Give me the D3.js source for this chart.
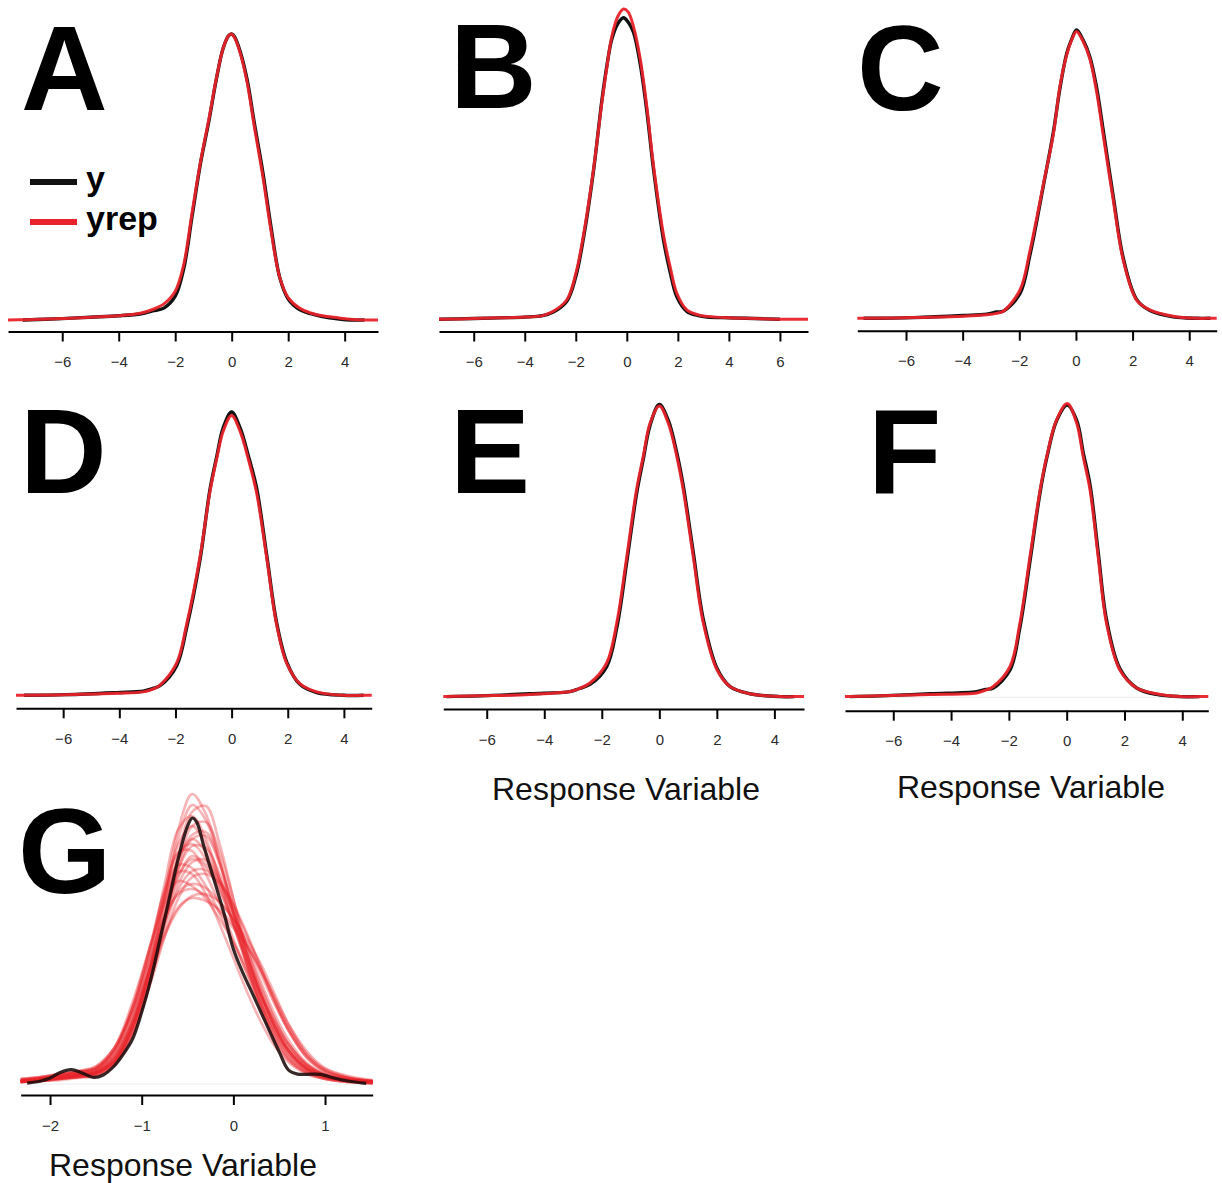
<!DOCTYPE html>
<html>
<head>
<meta charset="utf-8">
<script src="https://cdn.jsdelivr.net/npm/d3@7"></script>
<style>
  html, body { margin: 0; padding: 0; background: #fff; }
  svg { display: block; font-family: "Liberation Sans", Arial, Helvetica, sans-serif; }
</style>
</head>
<body>
<svg id="fig" width="1222" height="1183"></svg>
<script>
// ---------- Posterior predictive density overlays: observed y vs replicated yrep ----------

// tick values
const ticksStd = [-6, -4, -2, 0, 2, 4];
const ticksB = [-6, -4, -2, 0, 2, 4, 6];
const ticksG = [-2, -1, 0, 1];

// Panel A
const gridA = [-7.92, -7.4, -6, -5, -4, -3.2, -2.8, -2.4, -2.0, -1.7, -1.4, -1.1, -0.8, -0.55, -0.3, -0.1, 0, 0.1, 0.3, 0.55, 0.8, 1.1, 1.4, 1.7, 2.0, 2.4, 2.8, 3.2, 3.8, 4.2, 4.7, 5.18];
const yA = [null, 0.001, 0.003, 0.005, 0.007, 0.010, 0.014, 0.018, 0.035, 0.074, 0.150, 0.226, 0.287, 0.344, 0.390, 0.408, 0.410, 0.406, 0.385, 0.344, 0.283, 0.213, 0.132, 0.062, 0.031, 0.016, 0.010, 0.006, 0.0025, 0.001, 0.001, null];
const yrepA = [0.001, 0.0015, 0.003, 0.005, 0.007, 0.011, 0.016, 0.024, 0.042, 0.080, 0.155, 0.228, 0.290, 0.345, 0.390, 0.408, 0.410, 0.405, 0.383, 0.340, 0.278, 0.207, 0.127, 0.062, 0.033, 0.018, 0.011, 0.007, 0.004, 0.002, 0.001, 0.001];

// Panel B
const gridB = [-7.36, -6, -5, -4, -3.3, -2.88, -2.35, -2.0, -1.7, -1.31, -0.98, -0.78, -0.59, -0.35, -0.13, 0.05, 0.26, 0.52, 0.78, 1.04, 1.44, 1.7, 1.96, 2.35, 2.8, 3.14, 4, 5, 6, 7.1];
const yB = [0.001, 0.002, 0.003, 0.004, 0.006, 0.011, 0.026, 0.060, 0.113, 0.205, 0.303, 0.352, 0.388, 0.410, 0.418, 0.412, 0.398, 0.355, 0.290, 0.210, 0.110, 0.066, 0.032, 0.012, 0.006, 0.004, 0.003, 0.002, 0.001, null];
const yrepB = [0.001, 0.002, 0.003, 0.004, 0.006, 0.012, 0.028, 0.064, 0.117, 0.207, 0.300, 0.350, 0.392, 0.420, 0.430, 0.426, 0.406, 0.362, 0.296, 0.215, 0.117, 0.073, 0.037, 0.014, 0.007, 0.005, 0.003, 0.002, 0.001, 0.001];

// Panel C
const gridC = [-7.72, -7.5, -5.74, -3.98, -3.15, -2.8, -2.57, -1.98, -1.62, -1.15, -0.80, -0.56, -0.33, -0.15, 0.02, 0.25, 0.49, 0.73, 0.96, 1.32, 1.67, 2.14, 2.61, 3.43, 4.26, 4.75, 4.97];
const yC = [null, 0.001, 0.002, 0.005, 0.007, 0.010, 0.011, 0.036, 0.092, 0.190, 0.266, 0.330, 0.378, 0.399, 0.412, 0.398, 0.374, 0.330, 0.270, 0.174, 0.087, 0.028, 0.012, 0.003, 0.001, 0.001, null];
const yrepC = [0.001, 0.001, 0.002, 0.004, 0.006, 0.008, 0.011, 0.041, 0.098, 0.192, 0.263, 0.333, 0.376, 0.398, 0.410, 0.396, 0.371, 0.324, 0.263, 0.169, 0.084, 0.027, 0.013, 0.004, 0.001, 0.001, 0.001];

// Panel D
const gridD = [-7.68, -7.4, -5.88, -4.1, -3.15, -2.8, -2.55, -1.96, -1.60, -1.13, -0.77, -0.53, -0.30, 0, 0.30, 0.59, 0.89, 1.25, 1.60, 1.96, 2.43, 3.03, 3.98, 4.7, 4.99];
const yD = [null, 0.001, 0.002, 0.005, 0.007, 0.011, 0.015, 0.044, 0.100, 0.198, 0.302, 0.350, 0.392, 0.415, 0.392, 0.352, 0.304, 0.206, 0.108, 0.050, 0.017, 0.005, 0.001, 0.001, null];
const yrepD = [0.001, 0.001, 0.002, 0.004, 0.006, 0.010, 0.016, 0.048, 0.105, 0.202, 0.299, 0.347, 0.387, 0.410, 0.387, 0.347, 0.297, 0.202, 0.105, 0.048, 0.018, 0.006, 0.001, 0.001, 0.001];

// Panel E
const gridE = [-7.51, -7.4, -6.24, -4.5, -3.11, -2.8, -2.41, -1.83, -1.48, -1.13, -0.79, -0.56, -0.32, 0, 0.31, 0.61, 0.83, 1.18, 1.53, 2.0, 2.46, 3.15, 4.2, 4.7, 5.03];
const yE = [null, 0.001, 0.002, 0.005, 0.008, 0.012, 0.018, 0.043, 0.097, 0.190, 0.285, 0.333, 0.381, 0.410, 0.388, 0.342, 0.297, 0.203, 0.109, 0.041, 0.015, 0.005, 0.001, 0.001, null];
const yrepE = [0.001, 0.001, 0.002, 0.004, 0.008, 0.012, 0.020, 0.048, 0.104, 0.197, 0.291, 0.337, 0.384, 0.408, 0.384, 0.337, 0.291, 0.197, 0.104, 0.039, 0.015, 0.005, 0.001, 0.001, 0.001];

// Panel F
const gridF = [-7.67, -7.5, -6.46, -4.73, -3.11, -2.8, -2.54, -1.96, -1.62, -1.27, -0.92, -0.69, -0.35, 0.02, 0.35, 0.57, 0.81, 1.09, 1.38, 1.84, 2.42, 3.11, 3.92, 4.6, 4.90];
const yF = [null, 0.001, 0.002, 0.005, 0.008, 0.011, 0.013, 0.038, 0.097, 0.190, 0.286, 0.334, 0.386, 0.408, 0.386, 0.342, 0.296, 0.203, 0.108, 0.040, 0.013, 0.004, 0.001, 0.001, null];
const yrepF = [0.001, 0.001, 0.002, 0.004, 0.006, 0.010, 0.015, 0.043, 0.103, 0.196, 0.289, 0.336, 0.387, 0.410, 0.382, 0.336, 0.289, 0.196, 0.103, 0.038, 0.013, 0.005, 0.001, 0.001, 0.001];

// Panel G: observed density
const gridGy = [-2.25, -2.1, -2.0, -1.9, -1.77, -1.65, -1.52, -1.42, -1.3, -1.2, -1.1, -1.0, -0.9, -0.8, -0.7, -0.6, -0.5, -0.447, -0.4, -0.32, -0.21, -0.1, 0, 0.1, 0.2, 0.3, 0.4, 0.5, 0.6, 0.7, 0.85, 0.95, 1.1, 1.25, 1.45];
const yG = [0.003, 0.010, 0.020, 0.037, 0.048, 0.037, 0.022, 0.030, 0.060, 0.100, 0.150, 0.240, 0.350, 0.483, 0.617, 0.753, 0.860, 0.887, 0.873, 0.790, 0.680, 0.567, 0.450, 0.373, 0.307, 0.240, 0.173, 0.107, 0.047, 0.033, 0.033, 0.032, 0.020, 0.010, 0.002];

// Panel G: replicated densities (one row per draw)
const gridGrep = [-2.32, -2.1, -1.9, -1.7, -1.5, -1.3, -1.1, -0.9, -0.75, -0.6, -0.45, -0.3, -0.15, 0, 0.15, 0.3, 0.45, 0.6, 0.8, 1.0, 1.25, 1.52];
const yrepG = [
  [0.007, 0.010, 0.017, 0.023, 0.033, 0.073, 0.200, 0.417, 0.633, 0.850, 0.967, 0.900, 0.750, 0.567, 0.393, 0.250, 0.147, 0.080, 0.037, 0.017, 0.007, 0.003],
  [0.007, 0.013, 0.020, 0.030, 0.040, 0.090, 0.227, 0.450, 0.667, 0.850, 0.893, 0.817, 0.683, 0.533, 0.393, 0.267, 0.167, 0.093, 0.043, 0.020, 0.010, 0.005],
  [0.010, 0.013, 0.020, 0.027, 0.037, 0.080, 0.187, 0.373, 0.550, 0.717, 0.817, 0.827, 0.733, 0.583, 0.433, 0.300, 0.193, 0.113, 0.053, 0.027, 0.013, 0.007],
  [0.010, 0.017, 0.027, 0.033, 0.047, 0.107, 0.250, 0.467, 0.650, 0.773, 0.777, 0.700, 0.600, 0.483, 0.367, 0.260, 0.167, 0.100, 0.047, 0.023, 0.010, 0.007],
  [0.007, 0.013, 0.020, 0.027, 0.037, 0.073, 0.173, 0.350, 0.517, 0.650, 0.710, 0.713, 0.667, 0.573, 0.460, 0.340, 0.233, 0.147, 0.070, 0.033, 0.017, 0.007],
  [0.013, 0.020, 0.027, 0.033, 0.047, 0.100, 0.220, 0.400, 0.543, 0.640, 0.667, 0.653, 0.607, 0.550, 0.480, 0.400, 0.300, 0.200, 0.100, 0.047, 0.020, 0.010],
  [0.010, 0.017, 0.023, 0.030, 0.040, 0.087, 0.200, 0.360, 0.493, 0.583, 0.627, 0.633, 0.607, 0.550, 0.467, 0.367, 0.267, 0.180, 0.093, 0.043, 0.020, 0.010],
  [0.007, 0.010, 0.017, 0.023, 0.030, 0.067, 0.183, 0.400, 0.617, 0.800, 0.860, 0.800, 0.683, 0.550, 0.427, 0.317, 0.217, 0.133, 0.063, 0.030, 0.013, 0.007],
  [0.010, 0.017, 0.023, 0.033, 0.043, 0.093, 0.207, 0.387, 0.540, 0.667, 0.740, 0.747, 0.683, 0.573, 0.450, 0.327, 0.217, 0.133, 0.063, 0.030, 0.013, 0.007],
  [0.013, 0.020, 0.030, 0.040, 0.053, 0.120, 0.273, 0.467, 0.600, 0.677, 0.660, 0.617, 0.550, 0.473, 0.383, 0.293, 0.207, 0.133, 0.067, 0.033, 0.017, 0.007],
  [0.007, 0.010, 0.013, 0.020, 0.027, 0.060, 0.160, 0.350, 0.550, 0.767, 0.907, 0.927, 0.800, 0.617, 0.427, 0.273, 0.160, 0.087, 0.040, 0.020, 0.010, 0.003],
  [0.010, 0.017, 0.023, 0.030, 0.040, 0.083, 0.207, 0.407, 0.593, 0.750, 0.817, 0.773, 0.667, 0.533, 0.400, 0.280, 0.183, 0.110, 0.050, 0.023, 0.010, 0.007],
  [0.017, 0.023, 0.033, 0.043, 0.057, 0.120, 0.253, 0.427, 0.560, 0.633, 0.650, 0.627, 0.573, 0.520, 0.460, 0.380, 0.280, 0.190, 0.100, 0.050, 0.023, 0.010],
  [0.007, 0.013, 0.020, 0.027, 0.037, 0.077, 0.190, 0.377, 0.543, 0.690, 0.760, 0.733, 0.677, 0.593, 0.493, 0.383, 0.273, 0.180, 0.087, 0.040, 0.020, 0.010],
  [0.010, 0.017, 0.027, 0.037, 0.050, 0.110, 0.253, 0.460, 0.617, 0.707, 0.700, 0.633, 0.533, 0.420, 0.307, 0.207, 0.127, 0.073, 0.033, 0.017, 0.007, 0.003],
  [0.007, 0.010, 0.017, 0.023, 0.030, 0.067, 0.167, 0.350, 0.533, 0.733, 0.860, 0.873, 0.773, 0.617, 0.450, 0.307, 0.193, 0.110, 0.050, 0.023, 0.010, 0.003],
  [0.008, 0.013, 0.020, 0.027, 0.037, 0.080, 0.193, 0.387, 0.557, 0.697, 0.750, 0.723, 0.647, 0.537, 0.413, 0.297, 0.197, 0.120, 0.060, 0.030, 0.013, 0.007],
  [0.013, 0.023, 0.033, 0.040, 0.047, 0.093, 0.213, 0.393, 0.560, 0.717, 0.793, 0.787, 0.700, 0.567, 0.427, 0.300, 0.193, 0.113, 0.053, 0.027, 0.013, 0.007],
  [0.013, 0.020, 0.030, 0.040, 0.053, 0.110, 0.240, 0.440, 0.630, 0.770, 0.800, 0.750, 0.650, 0.530, 0.410, 0.300, 0.200, 0.120, 0.057, 0.027, 0.013, 0.007],
  [0.007, 0.013, 0.020, 0.027, 0.037, 0.073, 0.170, 0.340, 0.490, 0.620, 0.690, 0.700, 0.670, 0.600, 0.500, 0.390, 0.280, 0.180, 0.090, 0.043, 0.020, 0.010],
  [0.007, 0.010, 0.017, 0.023, 0.030, 0.070, 0.190, 0.400, 0.610, 0.820, 0.930, 0.880, 0.740, 0.570, 0.400, 0.260, 0.150, 0.083, 0.037, 0.017, 0.007, 0.003],
  [0.013, 0.020, 0.030, 0.040, 0.053, 0.113, 0.260, 0.470, 0.640, 0.730, 0.720, 0.660, 0.570, 0.470, 0.370, 0.270, 0.180, 0.110, 0.053, 0.027, 0.013, 0.007],
  [0.017, 0.023, 0.033, 0.043, 0.060, 0.120, 0.240, 0.390, 0.500, 0.590, 0.620, 0.610, 0.580, 0.530, 0.460, 0.380, 0.290, 0.200, 0.110, 0.053, 0.027, 0.013],
  [0.010, 0.013, 0.020, 0.027, 0.037, 0.077, 0.190, 0.380, 0.570, 0.750, 0.830, 0.840, 0.740, 0.590, 0.430, 0.290, 0.180, 0.100, 0.047, 0.023, 0.010, 0.005]
];

const panelLabels = ["A", "B", "C", "D", "E", "F", "G"];
const legendLabels = ["y", "yrep"];
const axisTitle = "Response Variable";

// ---------- layout and styles ----------
const RED = "#e8242a";
const BLACK = "#111111";

const panels = [
  { id: "A", grid: gridA, y: yA, yrep: [yrepA], ticks: ticksStd, xDom: [-7.92, 5.18], left: 8, right: 378, axisY: 331.5, base: 320.7, top: 34, lx: 21, ly: 110 },
  { id: "B", grid: gridB, y: yB, yrep: [yrepB], ticks: ticksB, xDom: [-7.36, 7.1], left: 439, right: 808, axisY: 331.5, base: 320, top: 9, lx: 450, ly: 108 },
  { id: "C", grid: gridC, y: yC, yrep: [yrepC], ticks: ticksStd, xDom: [-7.72, 4.97], left: 857.3, right: 1216.7, axisY: 330.7, base: 319, top: 30, lx: 857, ly: 110 },
  { id: "D", grid: gridD, y: yD, yrep: [yrepD], ticks: ticksStd, xDom: [-7.68, 4.99], left: 16, right: 371.7, axisY: 708.3, base: 696, top: 412, lx: 20, ly: 493 },
  { id: "E", grid: gridE, y: yE, yrep: [yrepE], ticks: ticksStd, xDom: [-7.51, 5.03], left: 443.3, right: 804, axisY: 709, base: 697.3, top: 404.5, lx: 450, ly: 493, titleX: 626, titleY: 800 },
  { id: "F", grid: gridF, y: yF, yrep: [yrepF], ticks: ticksStd, xDom: [-7.67, 4.90], left: 845, right: 1208.3, axisY: 710.7, base: 697.3, top: 403.5, lx: 868, ly: 493, titleX: 1031, titleY: 798, faint: true },
  { id: "G", grid: gridGy, repGrid: gridGrep, y: yG, yrep: yrepG, ticks: ticksG, xDom: [-2.32, 1.52], left: 20.7, right: 372.7, axisY: 1095, base: 1084, top: 794, lx: 18, ly: 893, titleX: 183, titleY: 1176, faint: true, many: true }
];

const svg = d3.select("#fig");

function toPoints(grid, vals) {
  return grid.map((g, i) => ({ x: g, v: vals[i] }));
}

panels.forEach((p, idx) => {
  const g = svg.append("g").attr("class", "panel panel-" + p.id);
  const repGrid = p.repGrid || p.grid;
  const yMax = d3.max([d3.max(p.y), d3.max(p.yrep.flat())]);

  const x = d3.scaleLinear().domain(p.xDom).range([p.left, p.right]);
  const y = d3.scaleLinear().domain([0, yMax]).range([p.base, p.top]);

  const line = d3.line()
    .defined(d => d.v !== null && d.v !== undefined)
    .x(d => x(d.x))
    .y(d => y(d.v))
    .curve(d3.curveCatmullRom.alpha(0.5));

  if (p.faint) {
    g.append("line")
      .attr("x1", p.left).attr("x2", p.right)
      .attr("y1", y(0)).attr("y2", y(0))
      .attr("stroke", "#ececec").attr("stroke-width", 1);
  }

  if (p.many) {
    // replicated draws, translucent, then observed on top
    g.append("g").selectAll("path")
      .data(p.yrep)
      .join("path")
      .attr("d", r => line(toPoints(repGrid, r)))
      .attr("fill", "none")
      .attr("stroke", RED)
      .attr("stroke-opacity", 0.34)
      .attr("stroke-width", 2.6);
    g.append("path")
      .attr("d", line(toPoints(p.grid, p.y)))
      .attr("fill", "none")
      .attr("stroke", "#1d0b0b")
      .attr("stroke-opacity", 0.88)
      .attr("stroke-width", 3.2);
  } else {
    g.append("path")
      .attr("d", line(toPoints(p.grid, p.y)))
      .attr("fill", "none")
      .attr("stroke", BLACK)
      .attr("stroke-width", 3.4)
      .attr("stroke-linejoin", "round");
    g.append("g").selectAll("path")
      .data(p.yrep)
      .join("path")
      .attr("d", r => line(toPoints(repGrid, r)))
      .attr("fill", "none")
      .attr("stroke", RED)
      .attr("stroke-width", 3)
      .attr("stroke-opacity", 0.95)
      .attr("stroke-linejoin", "round");
  }

  // x axis
  const axis = d3.axisBottom(x)
    .tickValues(p.ticks)
    .tickSize(10)
    .tickSizeOuter(0)
    .tickPadding(15)
    .tickFormat(d => d < 0 ? "\u2212" + Math.abs(d) : String(d));

  const ag = g.append("g")
    .attr("transform", `translate(0,${p.axisY})`)
    .call(axis);
  ag.attr("font-size", null).attr("font-family", null);
  ag.select(".domain").attr("stroke", "#000").attr("stroke-width", 2);
  ag.selectAll(".tick line").attr("stroke", "#000").attr("stroke-width", 2);
  ag.selectAll(".tick text")
    .attr("fill", "#2b2b2b")
    .style("font-size", "15px")
    .style("font-family", "\"Liberation Sans\", Arial, sans-serif");

  // axis title
  if (p.titleY) {
    g.append("text")
      .attr("x", p.titleX)
      .attr("y", p.titleY)
      .attr("text-anchor", "middle")
      .style("font-size", "32px")
      .attr("fill", "#111")
      .text(axisTitle);
  }

  // panel letter
  g.append("text")
    .attr("x", p.lx)
    .attr("y", p.ly)
    .style("font-size", "120px")
    .style("font-weight", "bold")
    .attr("fill", "#000")
    .text(panelLabels[idx]);
});

// legend in panel A
const legend = svg.append("g").attr("class", "legend");
const legendColors = [BLACK, RED];
const legendRows = [182, 222];
const legendBase = [190, 230];
legendLabels.forEach((lab, i) => {
  legend.append("line")
    .attr("x1", 30).attr("x2", 77)
    .attr("y1", legendRows[i]).attr("y2", legendRows[i])
    .attr("stroke", legendColors[i])
    .attr("stroke-width", 6);
  legend.append("text")
    .attr("x", 86)
    .attr("y", legendBase[i])
    .style("font-size", "34px")
    .style("font-weight", "bold")
    .attr("fill", "#000")
    .text(lab);
});
</script>
</body>
</html>
